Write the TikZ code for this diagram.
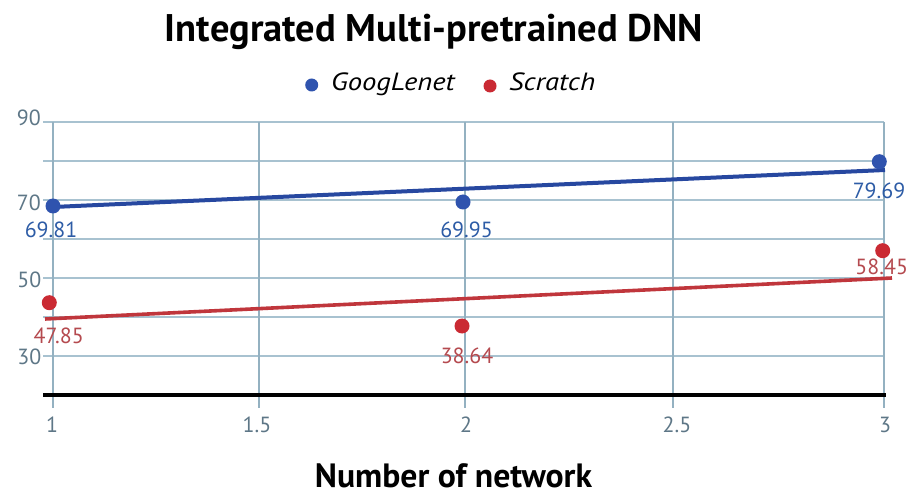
\documentclass[tikz,border=0pt]{standalone}
\usepackage{fontspec}
\setmainfont{PT Sans}
\definecolor{gridc}{HTML}{A8C2D0}
\definecolor{vgridc}{HTML}{94B1C1}
\definecolor{ticklab}{HTML}{5E7787}
\definecolor{gblue}{HTML}{2748A0}
\definecolor{gbluedot}{HTML}{2F53AE}
\definecolor{gbluetxt}{HTML}{2D5CA6}
\definecolor{sred}{HTML}{C0363C}
\definecolor{sreddot}{HTML}{CA2A33}
\definecolor{sredtxt}{HTML}{B54A4F}
\tikzset{
  hgrid/.style={draw=gridc, line width=1.4bp},
  vgrid/.style={draw=vgridc, line width=1.3bp},
  ticktext/.style={inner sep=0pt, text=ticklab, font=\fontsize{22}{22}\selectfont},
  valblue/.style={inner sep=0pt, text=gbluetxt, font=\fontsize{22}{22}\selectfont},
  valred/.style={inner sep=0pt, text=sredtxt, font=\fontsize{22}{22}\selectfont},
  bluedot/.style={circle, fill=gbluedot, inner sep=0pt, minimum size=15bp},
  reddot/.style={circle, fill=sreddot, inner sep=0pt, minimum size=15bp},
  trendblue/.style={draw=gblue, line width=4bp},
  trendred/.style={draw=sred, line width=3.6bp},
  legtext/.style={inner sep=0pt, anchor=base west, font=\itshape\fontsize{25}{25}\selectfont}
}
\begin{document}
\begin{tikzpicture}[x=1bp, y=-1bp]
  \useasboundingbox (0,0) rectangle (912,496);
  \fill[white] (0,0) rectangle (912,496);

  % title
  \node[inner sep=0pt, anchor=base] (title) at (434,41.7)
    {\resizebox{538bp}{!}{\bfseries Integrated Multi-pretrained DNN}};

  % legend
  \node[bluedot, minimum size=13bp] (lgb) at (311.7,85) {};
  \node[legtext] (lgbt) at (331,91) {\scalebox{1.15}[1]{GoogLenet}};
  \node[reddot, minimum size=13bp] (lgr) at (490,86) {};
  \node[legtext] (lgrt) at (509,91) {\scalebox{1.15}[1]{Scratch}};

  % horizontal grid lines, 90 down to 30
  \foreach \v in {90,80,...,30}
    \draw[hgrid] (43,{395-(\v-20)*3.9}) -- (884,{395-(\v-20)*3.9});
  % vertical grid lines at 1, 1.5, 2, 2.5, 3
  \foreach \px in {53,259,465,673,884}
    \draw[vgrid] (\px,122) -- (\px,408);

  % base axis
  \draw[line width=4bp] (43,395) -- (886,395);

  % y tick labels
  \node[ticktext, anchor=east] (y90) at (41,117.5) {90};
  \node[ticktext, anchor=east] (y70) at (41,202.5) {70};
  \node[ticktext, anchor=east] (y50) at (41.5,279.5) {50};
  \node[ticktext, anchor=east] (y30) at (41.5,357) {30};

  % x tick labels
  \node[ticktext] (x1) at (52,425) {1};
  \node[ticktext] (x15) at (257,425) {1.5};
  \node[ticktext] (x2) at (466,425) {2};
  \node[ticktext] (x25) at (677,425) {2.5};
  \node[ticktext] (x3) at (885,425) {3};

  % trend lines
  \coordinate (bs) at (53,207);
  \coordinate (be) at (885,170);
  \coordinate (rs) at (45,319);
  \coordinate (re) at (892,278);
  \draw[trendblue] (bs) -- (be);
  \draw[trendred] (rs) -- (re);

  % data points
  \node[bluedot] (b1) at (53,206) {};
  \node[bluedot] (b2) at (463,202) {};
  \node[bluedot] (b3) at (879.3,161.7) {};
  \node[reddot] (r1) at (49.3,302.7) {};
  \node[reddot] (r2) at (462,326) {};
  \node[reddot] (r3) at (882.7,250.7) {};

  % value labels
  \node[valblue] (vb1) at (51,230) {69.81};
  \node[valblue] (vb2) at (466.5,230) {69.95};
  \node[valblue] (vb3) at (879,191) {79.69};
  \node[valred] (vr1) at (58.7,336) {47.85};
  \node[valred] (vr2) at (467,355.5) {38.64};
  \node[valred] (vr3) at (881.7,267) {58.45};

  % axis title
  \node[inner sep=0pt, anchor=base] (xtitle) at (453.5,487)
    {\resizebox{277bp}{!}{\bfseries Number of network}};
\end{tikzpicture}
\end{document}
